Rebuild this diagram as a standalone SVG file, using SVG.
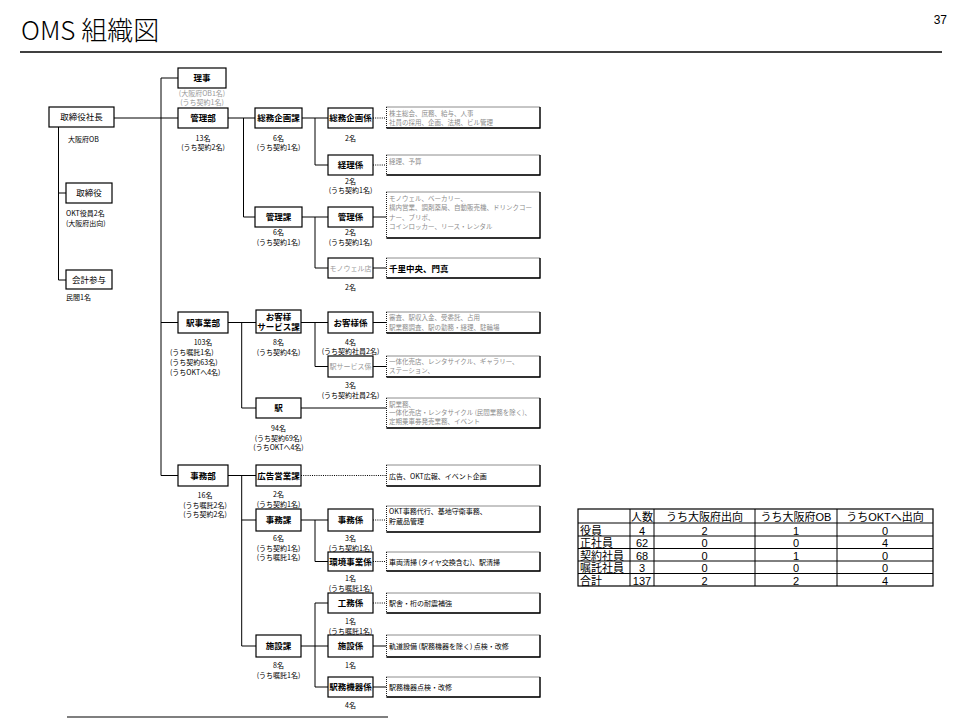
<svg xmlns="http://www.w3.org/2000/svg" width="960" height="720" viewBox="0 0 960 720">
<style>
text{font-family:"Noto Sans CJK JP","Noto Sans CJK SC",sans-serif;fill:#000}
.box{fill:#fff;stroke:#000;stroke-width:1.2}
.lbl{font-size:8.5px;text-anchor:middle;font-weight:bold}
.gl{font-size:7px;text-anchor:middle;fill:#999}
.ann{font-size:7px;text-anchor:middle}
.annl{font-size:7px;text-anchor:start}
.gann{font-size:7px;text-anchor:middle;fill:#999}
.dbox{fill:#fff;stroke:#000;stroke-width:0.9;stroke-dasharray:1 1}
.dedge{fill:none;stroke:#000;stroke-width:1.3}
.dt{font-size:6.5px;fill:#8c8c8c}
.db{font-size:7px;fill:#000}
.dbb{font-size:8.5px;fill:#000;font-weight:bold}
#connectors line{stroke:#000;stroke-width:1}
#connectors line.dot{stroke-dasharray:1 1.2}
.tbl line{stroke:#000;stroke-width:1}
.tt{font-size:11px;text-anchor:middle;font-family:"Liberation Sans","Noto Sans CJK JP",sans-serif}
.tl{font-size:11px;text-anchor:start}
</style>

<g id="title">
<text x="21" y="40" style="font-size:26px;font-weight:300">OMS 組織図</text>
<text x="947" y="24" style="font-size:12px;text-anchor:end;font-family:'Liberation Sans',sans-serif">37</text>
<line x1="20" y1="52" x2="942" y2="52" stroke="#000" stroke-width="1.5"/>
<line x1="67" y1="717" x2="388" y2="717" stroke="#000" stroke-width="1.2"/>
</g>

<g id="connectors">
<line x1="58.5" y1="127" x2="58.5" y2="280"/>
<line x1="58.5" y1="193" x2="66" y2="193"/>
<line x1="58.5" y1="280" x2="66" y2="280"/>
<line x1="114" y1="118" x2="178" y2="118"/>
<line x1="161" y1="78" x2="161" y2="475.5"/>
<line x1="161" y1="78" x2="178" y2="78"/>
<line x1="161" y1="322.5" x2="178" y2="322.5"/>
<line x1="161" y1="475.5" x2="178" y2="475.5"/>
<line x1="228" y1="118" x2="255" y2="118"/>
<line x1="243.5" y1="118" x2="243.5" y2="217"/>
<line x1="243.5" y1="217" x2="255" y2="217"/>
<line x1="302" y1="118" x2="328" y2="118"/>
<line x1="315" y1="118" x2="315" y2="165"/>
<line x1="315" y1="165" x2="328" y2="165"/>
<line x1="302" y1="217" x2="328" y2="217"/>
<line x1="315" y1="217" x2="315" y2="268"/>
<line x1="315" y1="268" x2="328" y2="268"/>
<line class="dot" x1="373" y1="118" x2="386.5" y2="118"/>
<line class="dot" x1="373" y1="165" x2="386.5" y2="165"/>
<line x1="373" y1="217" x2="386.5" y2="217"/>
<line x1="373" y1="268" x2="386.5" y2="268"/>
<line x1="228" y1="322.5" x2="256" y2="322.5"/>
<line x1="241.7" y1="322.5" x2="241.7" y2="408"/>
<line x1="241.7" y1="408" x2="256" y2="408"/>
<line x1="301" y1="322.5" x2="328" y2="322.5"/>
<line x1="315" y1="322.5" x2="315" y2="366.5"/>
<line x1="315" y1="366.5" x2="328" y2="366.5"/>
<line x1="373" y1="322.5" x2="386.5" y2="322.5"/>
<line x1="373" y1="366.5" x2="386.5" y2="366.5"/>
<line x1="301" y1="408" x2="386.5" y2="408"/>
<line x1="228" y1="475.5" x2="256" y2="475.5"/>
<line x1="241.7" y1="475.5" x2="241.7" y2="646"/>
<line x1="241.7" y1="520" x2="256" y2="520"/>
<line x1="241.7" y1="646" x2="256" y2="646"/>
<line class="dot" x1="301" y1="475.5" x2="386.5" y2="475.5"/>
<line x1="301" y1="520" x2="328" y2="520"/>
<line x1="315" y1="520" x2="315" y2="561.5"/>
<line x1="315" y1="561.5" x2="328" y2="561.5"/>
<line class="dot" x1="373" y1="520" x2="386.5" y2="520"/>
<line class="dot" x1="373" y1="561.5" x2="386.5" y2="561.5"/>
<line x1="301" y1="646" x2="328" y2="646"/>
<line x1="315" y1="603" x2="315" y2="687"/>
<line x1="315" y1="603" x2="328" y2="603"/>
<line x1="315" y1="687" x2="328" y2="687"/>
<line class="dot" x1="373" y1="603" x2="386.5" y2="603"/>
<line x1="373" y1="646" x2="386.5" y2="646"/>
<line x1="373" y1="687" x2="386.5" y2="687"/>
</g>

<!-- level 1 -->
<g id="n-shacho">
<rect class="box" x="49" y="107" width="65" height="20"/>
<text class="lbl" x="81.5" y="120" style="font-weight:normal">取締役社長</text>
<text class="annl" x="68" y="142">大阪府OB</text>
</g>
<g id="n-torishimariyaku">
<rect class="box" x="66" y="183" width="46" height="20"/>
<text class="lbl" x="89" y="196" style="font-weight:normal">取締役</text>
<text class="annl" x="66" y="216">OKT役員2名</text>
<text class="annl" x="66" y="226">(大阪府出向)</text>
</g>
<g id="n-kaikeisanyo">
<rect class="box" x="66" y="270" width="46" height="19"/>
<text class="lbl" x="89" y="282.5" style="font-weight:normal">会計参与</text>
<text class="annl" x="66" y="299.5">民間1名</text>
</g>

<!-- level 2 -->
<g id="n-riji">
<rect class="box" x="178" y="68" width="48" height="20"/>
<text class="lbl" x="202" y="81">理事</text>
<text class="gann" x="202" y="95.5">(大阪府OB1名)</text>
<text class="gann" x="202" y="105">(うち契約1名)</text>
</g>
<g id="n-kanribu">
<rect class="box" x="178" y="108" width="50" height="20"/>
<text class="lbl" x="203" y="121">管理部</text>
<text class="ann" x="203" y="140.5">13名</text>
<text class="ann" x="203" y="150">(うち契約2名)</text>
</g>
<g id="n-ekijigyobu">
<rect class="box" x="178" y="312" width="50" height="21"/>
<text class="lbl" x="203" y="325.5">駅事業部</text>
<text class="ann" x="203" y="345">103名</text>
<text class="annl" x="170" y="355">(うち嘱託1名)</text>
<text class="annl" x="170" y="365">(うち契約63名)</text>
<text class="annl" x="170" y="374.5">(うちOKTへ4名)</text>
</g>
<g id="n-jimubu">
<rect class="box" x="178" y="465" width="50" height="21"/>
<text class="lbl" x="203" y="478.5">事務部</text>
<text class="ann" x="205" y="498">16名</text>
<text class="ann" x="205" y="507.5">(うち嘱託2名)</text>
<text class="ann" x="205" y="517">(うち契約2名)</text>
</g>

<!-- level 3 -->
<g id="n-somukikakuka">
<rect class="box" x="255" y="108" width="47" height="20"/>
<text class="lbl" x="278.5" y="121">総務企画課</text>
<text class="ann" x="278.5" y="140.5">6名</text>
<text class="ann" x="278.5" y="150">(うち契約1名)</text>
</g>
<g id="n-kanrika">
<rect class="box" x="255" y="207" width="47" height="20"/>
<text class="lbl" x="278.5" y="220">管理課</text>
<text class="ann" x="278.5" y="234.5">6名</text>
<text class="ann" x="278.5" y="244.5">(うち契約1名)</text>
</g>
<g id="n-okyakusamaservice">
<rect class="box" x="256" y="310" width="45" height="23"/>
<text class="lbl" x="278.5" y="319.5">お客様</text>
<text class="lbl" x="278.5" y="330">サービス課</text>
<text class="ann" x="278.5" y="345">8名</text>
<text class="ann" x="278.5" y="355">(うち契約4名)</text>
</g>
<g id="n-eki">
<rect class="box" x="256" y="398" width="45" height="20"/>
<text class="lbl" x="278.5" y="411">駅</text>
<text class="ann" x="278.5" y="431">94名</text>
<text class="ann" x="278.5" y="440.5">(うち契約69名)</text>
<text class="ann" x="278.5" y="450">(うちOKTへ4名)</text>
</g>
<g id="n-kokokueigyoka">
<rect class="box" x="256" y="465" width="45" height="21"/>
<text class="lbl" x="278.5" y="478.5">広告営業課</text>
<text class="ann" x="278.5" y="497">2名</text>
<text class="ann" x="278.5" y="506.5">(うち契約1名)</text>
</g>
<g id="n-jimuka">
<rect class="box" x="256" y="509" width="45" height="22"/>
<text class="lbl" x="278.5" y="523">事務課</text>
<text class="ann" x="278.5" y="541">6名</text>
<text class="ann" x="278.5" y="550.5">(うち契約1名)</text>
<text class="ann" x="278.5" y="560">(うち嘱託1名)</text>
</g>
<g id="n-shisetsuka">
<rect class="box" x="256" y="635" width="45" height="22"/>
<text class="lbl" x="278.5" y="649">施設課</text>
<text class="ann" x="278.5" y="668">8名</text>
<text class="ann" x="278.5" y="677.5">(うち嘱託1名)</text>
</g>

<!-- level 4 -->
<g id="n-somukikakugakari">
<rect class="box" x="328" y="108" width="45" height="20"/>
<text class="lbl" x="350.5" y="121">総務企画係</text>
<text class="ann" x="350.5" y="140.5">2名</text>
</g>
<g id="n-keirigakari">
<rect class="box" x="328" y="155" width="45" height="20"/>
<text class="lbl" x="350.5" y="168">経理係</text>
<text class="ann" x="350.5" y="183.5">2名</text>
<text class="ann" x="350.5" y="193">(うち契約1名)</text>
</g>
<g id="n-kanrigakari">
<rect class="box" x="328" y="207" width="45" height="20"/>
<text class="lbl" x="350.5" y="220">管理係</text>
<text class="ann" x="350.5" y="234.5">2名</text>
<text class="ann" x="350.5" y="244.5">(うち契約1名)</text>
</g>
<g id="n-monowellten">
<rect class="box" x="328" y="258" width="45" height="20"/>
<text class="gl" x="350.5" y="270.5">モノウェル店</text>
<text class="ann" x="350.5" y="289.5">2名</text>
</g>
<g id="n-okyakusamagakari">
<rect class="box" x="328" y="312" width="45" height="21"/>
<text class="lbl" x="350.5" y="325.5">お客様係</text>
<text class="ann" x="350.5" y="344.5">4名</text>
<text class="ann" x="350.5" y="354">(うち契約社員2名)</text>
</g>
<g id="n-ekiservicegakari">
<rect class="box" x="328" y="356" width="45" height="21"/>
<text class="gl" x="350.5" y="369">駅サービス係</text>
<text class="ann" x="350.5" y="388">3名</text>
<text class="ann" x="350.5" y="397.5">(うち契約社員2名)</text>
</g>
<g id="n-jimugakari">
<rect class="box" x="328" y="509" width="45" height="22"/>
<text class="lbl" x="350.5" y="523">事務係</text>
<text class="ann" x="350.5" y="541">3名</text>
<text class="ann" x="350.5" y="550.5">(うち契約1名)</text>
</g>
<g id="n-kankyojigyogakari">
<rect class="box" x="328" y="552" width="45" height="19"/>
<text class="lbl" x="350.5" y="564.5">環境事業係</text>
<text class="ann" x="350.5" y="581">1名</text>
<text class="ann" x="350.5" y="590.5">(うち嘱託1名)</text>
</g>
<g id="n-komugakari">
<rect class="box" x="328" y="593" width="45" height="20"/>
<text class="lbl" x="350.5" y="606">工務係</text>
<text class="ann" x="350.5" y="624">1名</text>
<text class="ann" x="350.5" y="633.5">(うち嘱託1名)</text>
</g>
<g id="n-shisetsugakari">
<rect class="box" x="328" y="635" width="45" height="22"/>
<text class="lbl" x="350.5" y="649">施設係</text>
<text class="ann" x="350.5" y="668">1名</text>
</g>
<g id="n-ekimukikigakari">
<rect class="box" x="328" y="677" width="45" height="20"/>
<text class="lbl" x="350.5" y="690">駅務機器係</text>
<text class="ann" x="350.5" y="708">4名</text>
</g>

<!-- descriptions -->
<g id="d-somukikaku">
<rect class="dbox" x="386.5" y="107" width="153.5" height="21"/>
<polyline class="dedge" points="540,107 540,128 386.5,128"/>
<text class="dt" x="389" y="115.5">株主総会、庶務、給与、人事</text>
<text class="dt" x="389" y="125">社員の採用、企画、法規、ビル管理</text>
</g>
<g id="d-keiri">
<rect class="dbox" x="386.5" y="155" width="153.5" height="20"/>
<polyline class="dedge" points="540,155 540,175 386.5,175"/>
<text class="dt" x="389" y="163.5">経理、予算</text>
</g>
<g id="d-kanri">
<rect class="dbox" x="386.5" y="192" width="153.5" height="46"/>
<polyline class="dedge" points="540,192 540,238 386.5,238"/>
<text class="dt" x="389" y="200.5">モノウェル、ベーカリー、</text>
<text class="dt" x="389" y="210">構内営業、調剤薬局、自動販売機、ドリンクコー</text>
<text class="dt" x="389" y="219.5">ナー、ブリボ、</text>
<text class="dt" x="389" y="229">コインロッカー、リース・レンタル</text>
</g>
<g id="d-monowell">
<rect class="dbox" x="386.5" y="258" width="153.5" height="20"/>
<polyline class="dedge" points="540,258 540,278 386.5,278"/>
<text class="dbb" x="389" y="271.5">千里中央、門真</text>
</g>
<g id="d-okyakusama">
<rect class="dbox" x="386.5" y="312" width="153.5" height="21"/>
<polyline class="dedge" points="540,312 540,333 386.5,333"/>
<text class="dt" x="389" y="319.5">審査、駅収入金、受委託、占用</text>
<text class="dt" x="389" y="329.5">駅業務調査、駅の勤務・経理、駐輪場</text>
</g>
<g id="d-ekiservice">
<rect class="dbox" x="386.5" y="356" width="153.5" height="21"/>
<polyline class="dedge" points="540,356 540,377 386.5,377"/>
<text class="dt" x="389" y="363.5">一体化売店、レンタサイクル、ギャラリー、</text>
<text class="dt" x="389" y="373">ステーション、</text>
</g>
<g id="d-eki">
<rect class="dbox" x="386.5" y="398" width="153.5" height="30"/>
<polyline class="dedge" points="540,398 540,428 386.5,428"/>
<text class="dt" x="389" y="406.5">駅業務、</text>
<text class="dt" x="389" y="415">一体化売店・レンタサイクル (民間業務を除く)、</text>
<text class="dt" x="389" y="423.5">定期乗車券発売業務、イベント</text>
</g>
<g id="d-kokoku">
<rect class="dbox" x="386.5" y="465" width="153.5" height="21"/>
<polyline class="dedge" points="540,465 540,486 386.5,486"/>
<text class="db" x="389" y="478.5">広告、OKT広報、イベント企画</text>
</g>
<g id="d-jimu">
<rect class="dbox" x="386.5" y="506" width="153.5" height="26"/>
<polyline class="dedge" points="540,506 540,532 386.5,532"/>
<text class="db" x="389" y="514">OKT事務代行、基地守衛事務、</text>
<text class="db" x="389" y="523.5">貯蔵品管理</text>
</g>
<g id="d-kankyo">
<rect class="dbox" x="386.5" y="552" width="153.5" height="19"/>
<polyline class="dedge" points="540,552 540,571 386.5,571"/>
<text class="db" x="389" y="564.5">車両清掃 (タイヤ交換含む)、駅清掃</text>
</g>
<g id="d-komu">
<rect class="dbox" x="386.5" y="593" width="153.5" height="20"/>
<polyline class="dedge" points="540,593 540,613 386.5,613"/>
<text class="db" x="389" y="606">駅舎・桁の耐震補強</text>
</g>
<g id="d-shisetsu">
<rect class="dbox" x="386.5" y="635" width="153.5" height="22"/>
<polyline class="dedge" points="540,635 540,657 386.5,657"/>
<text class="db" x="389" y="649">軌道設備 (駅務機器を除く) 点検・改修</text>
</g>
<g id="d-ekimukiki">
<rect class="dbox" x="386.5" y="677" width="153.5" height="20"/>
<polyline class="dedge" points="540,677 540,697 386.5,697"/>
<text class="db" x="389" y="690">駅務機器点検・改修</text>
</g>

<!-- staff table -->
<g id="staff-table" class="tbl">
<rect x="578" y="509" width="355" height="77" fill="#fff" stroke="#000" stroke-width="1.2"/>
<line x1="578" y1="523" x2="933" y2="523"/>
<line x1="578" y1="536" x2="933" y2="536"/>
<line x1="578" y1="548.5" x2="933" y2="548.5"/>
<line x1="578" y1="561" x2="933" y2="561"/>
<line x1="578" y1="573.5" x2="933" y2="573.5"/>
<line x1="630" y1="509" x2="630" y2="586"/>
<line x1="654" y1="509" x2="654" y2="586"/>
<line x1="755" y1="509" x2="755" y2="586"/>
<line x1="837" y1="509" x2="837" y2="586"/>
<text class="tt" x="642" y="521">人数</text>
<text class="tt" x="704.5" y="521">うち大阪府出向</text>
<text class="tt" x="796" y="521">うち大阪府OB</text>
<text class="tt" x="885" y="521">うちOKTへ出向</text>
<text class="tt tl" x="580" y="534.5">役員</text>
<text class="tt" x="642" y="534.5">4</text>
<text class="tt" x="704.5" y="534.5">2</text>
<text class="tt" x="796" y="534.5">1</text>
<text class="tt" x="885" y="534.5">0</text>
<text class="tt tl" x="580" y="547">正社員</text>
<text class="tt" x="642" y="547">62</text>
<text class="tt" x="704.5" y="547">0</text>
<text class="tt" x="796" y="547">0</text>
<text class="tt" x="885" y="547">4</text>
<text class="tt tl" x="580" y="559.5">契約社員</text>
<text class="tt" x="642" y="559.5">68</text>
<text class="tt" x="704.5" y="559.5">0</text>
<text class="tt" x="796" y="559.5">1</text>
<text class="tt" x="885" y="559.5">0</text>
<text class="tt tl" x="580" y="572">嘱託社員</text>
<text class="tt" x="642" y="572">3</text>
<text class="tt" x="704.5" y="572">0</text>
<text class="tt" x="796" y="572">0</text>
<text class="tt" x="885" y="572">0</text>
<text class="tt tl" x="580" y="584.5">合計</text>
<text class="tt" x="642" y="584.5">137</text>
<text class="tt" x="704.5" y="584.5">2</text>
<text class="tt" x="796" y="584.5">2</text>
<text class="tt" x="885" y="584.5">4</text>
</g>
</svg>
